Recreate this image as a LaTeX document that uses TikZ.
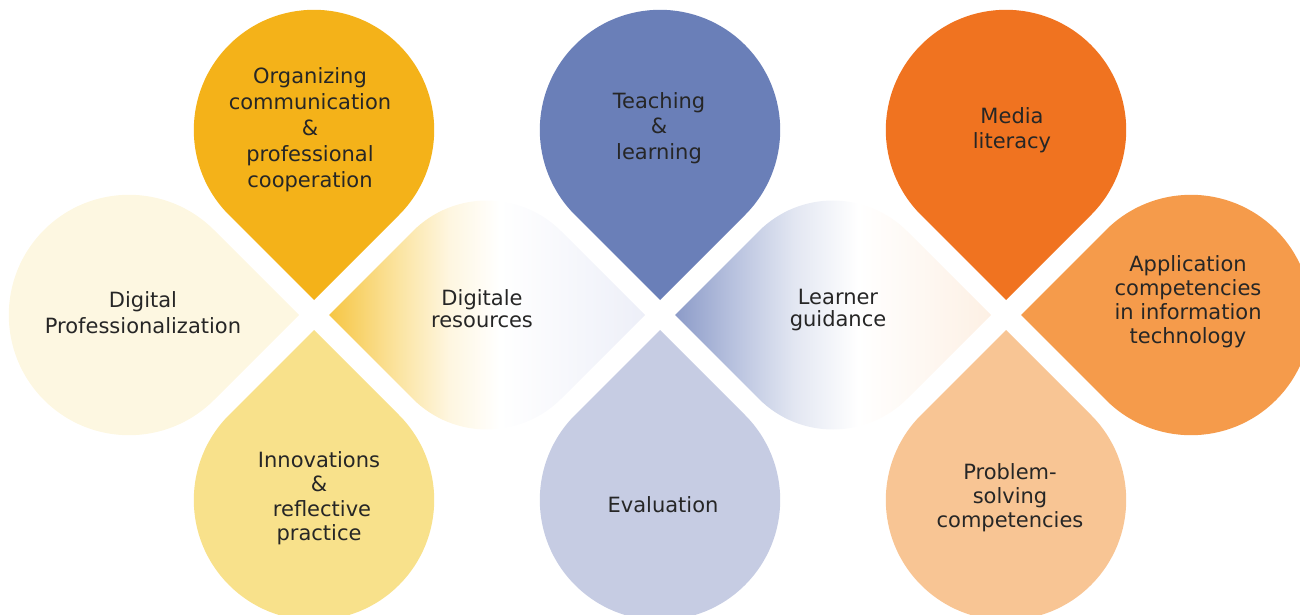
\documentclass[tikz,border=0pt]{standalone}
\usepackage{fontspec}
\setmainfont{DejaVu Sans}
\usetikzlibrary{calc}

% petal colours
\definecolor{orgc}{HTML}{F4B219}
\definecolor{profc}{HTML}{FDF7E1}
\definecolor{innoc}{HTML}{F8E18B}
\definecolor{teachc}{HTML}{6A7FB8}
\definecolor{evalc}{HTML}{C6CCE3}
\definecolor{mediac}{HTML}{F07320}
\definecolor{appc}{HTML}{F59B4B}
\definecolor{probc}{HTML}{F8C594}
\definecolor{txt}{HTML}{262626}
% leaf gradient colours
\definecolor{resA}{HTML}{F6C644}
\definecolor{resB}{HTML}{FBE4A1}
\definecolor{resC}{HTML}{FEF6E0}
\definecolor{resD}{HTML}{EDEFF8}
\definecolor{ldA}{HTML}{8C9BC8}
\definecolor{ldB}{HTML}{B7C1DE}
\definecolor{ldC}{HTML}{E3E7F2}
\definecolor{ldD}{HTML}{FDF0E4}

% the path's bounding box spans 25bp..75bp of a shading
\pgfdeclarehorizontalshading{resgrad}{100bp}{color(0bp)=(resA); color(25bp)=(resA);
  color(36bp)=(resB); color(44bp)=(resC); color(52bp)=(white); color(75bp)=(resD); color(100bp)=(resD)}
\pgfdeclarehorizontalshading{ldgrad}{100bp}{color(0bp)=(ldA); color(25bp)=(ldA);
  color(34bp)=(ldB); color(44bp)=(ldC); color(54bp)=(white); color(75bp)=(ldD); color(100bp)=(ldD)}

% drop shape: #1 cluster centre, #2 direction of the round end, #3 fill
\newcommand\petal[3]{%
  \fill[#3, shift={(#1)}, rotate=#2] (15,0) -- ++(85,85)
    arc[start angle=135, end angle=-135, radius=120.21] -- cycle;}
% leaf shape between two cluster centres, #3 shading
\newcommand\leaf[3]{%
  \shade[shading=#3] ($(#1)+(15,0)$) -- ++(83.75,83.75)
    arc[start angle=135, end angle=45, radius=105] -- ($(#2)+(-15,0)$)
    -- ++(-83.75,-83.75) arc[start angle=-45, end angle=-135, radius=105] -- cycle;}

\begin{document}
\begin{tikzpicture}[x=1pt, y=1pt,
  lbl/.style={text=txt, align=center, inner sep=0pt,
    font=\fontsize{21}{#1}\selectfont},
  lbl/.default=26]
\useasboundingbox (0,0) rectangle (1300,614);
\clip (0,0) rectangle (1300,614);

\coordinate (c1) at (314,299);
\coordinate (c2) at (660,299);
\coordinate (c3) at (1006,299);

% leaves joining the clusters
\leaf{c1}{c2}{resgrad}
\leaf{c2}{c3}{ldgrad}

% left cluster
\petal{c1}{90}{orgc}
\petal{c1}{180}{profc}
\petal{c1}{270}{innoc}
% middle cluster
\petal{c2}{90}{teachc}
\petal{c2}{270}{evalc}
% right cluster
\petal{c3}{90}{mediac}
\petal{c3}{0}{appc}
\petal{c3}{270}{probc}

% labels
\node[lbl] (org) at (310,484) {Organizing\\communication\\\&\\professional\\cooperation};
\node[lbl] (prof) at (143,301) {Digital\\Professionalization};
\node[lbl=24.5] (inno) at (319,116) {Innovations\\\&\\\hspace*{6pt}reflective\\practice};
\node[lbl=22] (res) at (482,305) {Digitale\\resources};
\node[lbl=25.5] (teach) at (659,486) {Teaching\\\&\\learning};
\node[lbl] (eval) at (663,109) {Evaluation};
\node[lbl=22] (learn) at (838,304) {Learner\\guidance};
\node[lbl=25] (media) at (1012,484) {Media\\literacy};
\node[lbl=24] (app) at (1188,312) {Application\\competencies\\in information\\technology};
\node[lbl=24] (prob) at (1010,116) {Problem-\\solving\\competencies};
\end{tikzpicture}
\end{document}
